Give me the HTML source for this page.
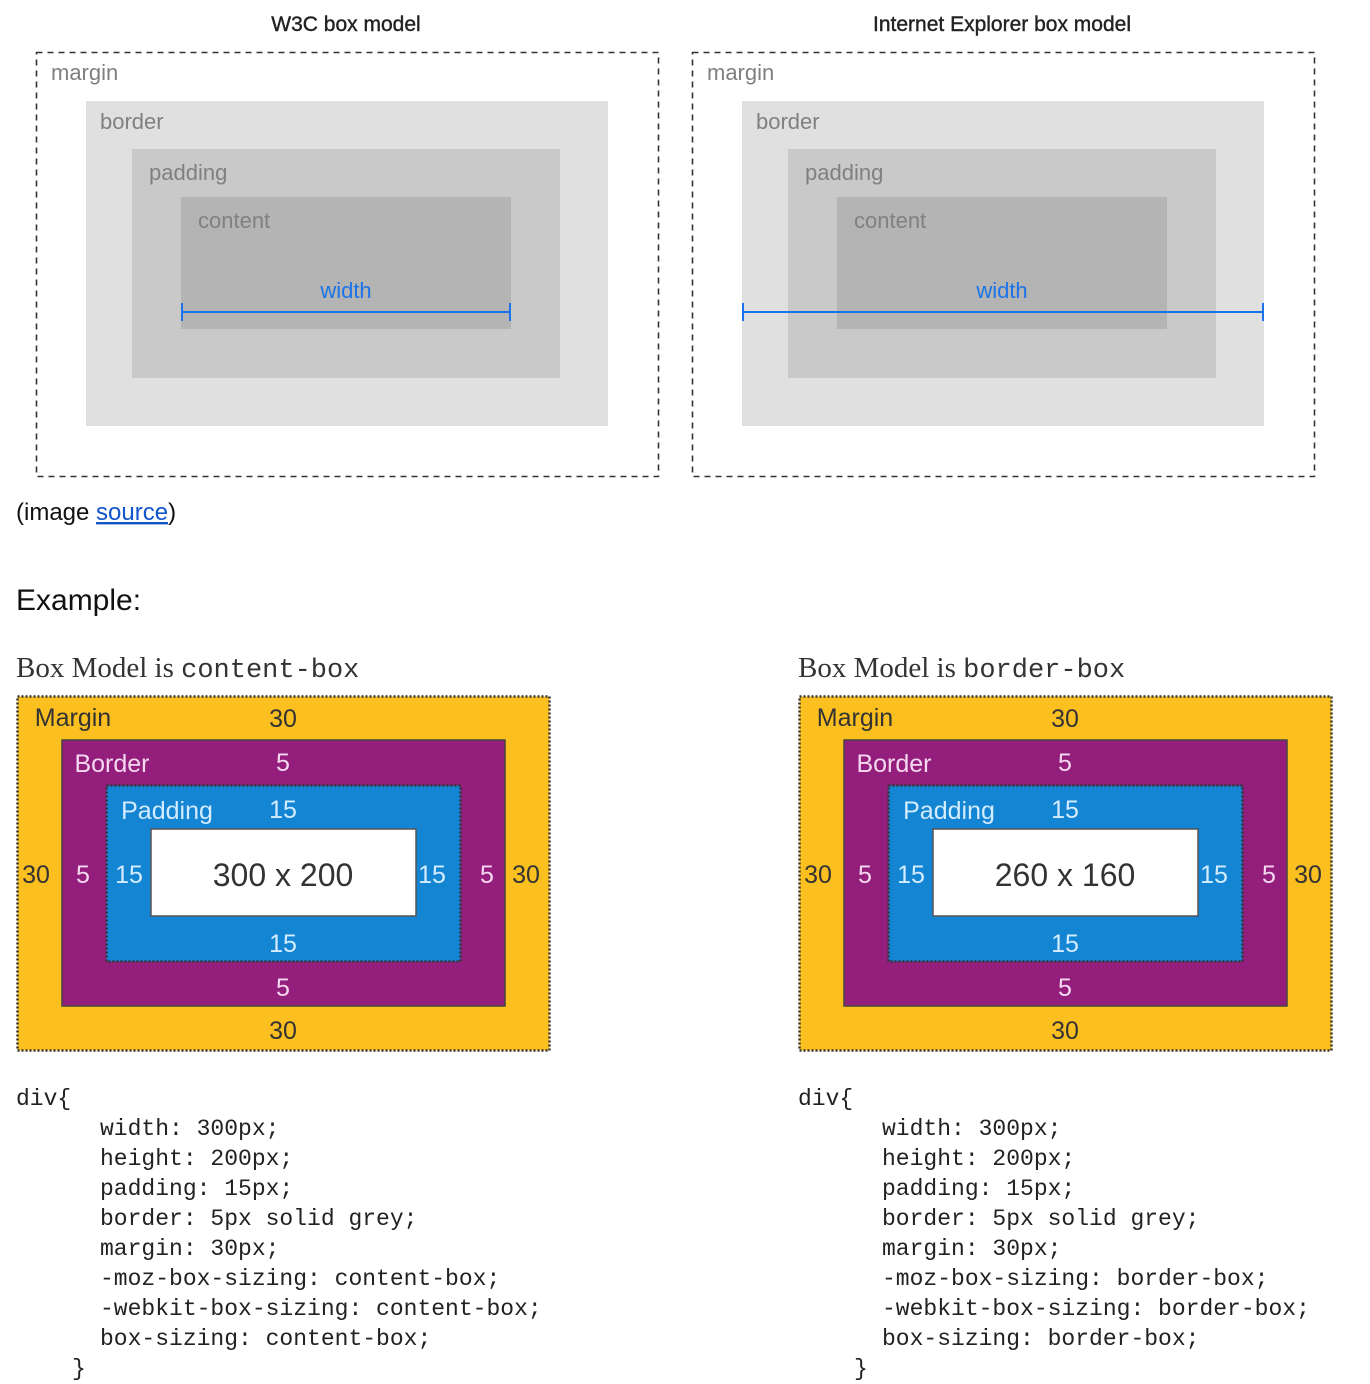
<!DOCTYPE html>
<html><head><meta charset="utf-8"><style>
html,body{margin:0;padding:0;background:#fff;width:1370px;height:1384px;overflow:hidden}
svg{display:block}
.lbl{font-family:"Liberation Sans",sans-serif;font-size:22px;fill:#808080}
.ttl{font-family:"Liberation Sans",sans-serif;font-size:21px;fill:#222;text-anchor:middle;stroke:#222;stroke-width:0.4}
.num{font-family:"Liberation Sans",sans-serif;font-size:25px;text-anchor:middle}
.code{font-family:"Liberation Mono",monospace;font-size:23px;fill:#222}
.serif{font-family:"Liberation Serif",serif;font-size:29px;fill:#333}
.mono{font-family:"Liberation Mono",monospace;font-size:27px;fill:#333}
</style></head><body>
<svg width="1370" height="1384" viewBox="0 0 1370 1384">
<g>
 <text class="ttl" x="346" y="31">W3C box model</text>
 <rect x="36.5" y="52.5" width="622" height="424" fill="none" stroke="#333" stroke-width="1.6" stroke-dasharray="6,5"/>
 <rect x="86" y="101" width="522" height="325" fill="#e0e0e0"/>
 <rect x="132" y="149" width="428" height="229" fill="#c9c9c9"/>
 <rect x="181" y="197" width="330" height="132" fill="#b4b4b4"/>
 <text class="lbl" x="51" y="80">margin</text>
 <text class="lbl" x="100" y="129">border</text>
 <text class="lbl" x="149" y="180">padding</text>
 <text class="lbl" x="198" y="228">content</text>
 <text class="lbl" x="346" y="298" style="fill:#1a73e8;text-anchor:middle">width</text>
 <g stroke="#1a73e8" stroke-width="2">
  <line x1="182" y1="312" x2="510" y2="312"/><line x1="182" y1="303" x2="182" y2="321"/><line x1="510" y1="303" x2="510" y2="321"/>
 </g>
</g>
<g>
 <text class="ttl" x="1002" y="31">Internet Explorer box model</text>
 <rect x="692.5" y="52.5" width="622" height="424" fill="none" stroke="#333" stroke-width="1.6" stroke-dasharray="6,5"/>
 <rect x="742" y="101" width="522" height="325" fill="#e0e0e0"/>
 <rect x="788" y="149" width="428" height="229" fill="#c9c9c9"/>
 <rect x="837" y="197" width="330" height="132" fill="#b4b4b4"/>
 <text class="lbl" x="707" y="80">margin</text>
 <text class="lbl" x="756" y="129">border</text>
 <text class="lbl" x="805" y="180">padding</text>
 <text class="lbl" x="854" y="228">content</text>
 <text class="lbl" x="1002" y="298" style="fill:#1a73e8;text-anchor:middle">width</text>
 <g stroke="#1a73e8" stroke-width="2">
  <line x1="743" y1="312" x2="1263" y2="312"/><line x1="743" y1="303" x2="743" y2="321"/><line x1="1263" y1="303" x2="1263" y2="321"/>
 </g>
</g>
<text x="16" y="520" style="font-family:'Liberation Sans',sans-serif;font-size:24px;fill:#111">(image <tspan fill="#1155cc" text-decoration="underline">source</tspan>)</text>
<text x="16" y="610" style="font-family:'Liberation Sans',sans-serif;font-size:30px;fill:#111">Example:</text>

<g>
 <text x="16" y="677"><tspan class="serif">Box Model is </tspan><tspan class="mono">content-box</tspan></text>
 <rect x="17.5" y="696.5" width="532" height="354" fill="#fbbf1f" stroke="#333" stroke-width="2.5" stroke-dasharray="2,2"/>
 <rect x="62" y="740" width="443" height="266" fill="#941e7b" stroke="#444" stroke-width="1.5"/>
 <rect x="106.5" y="785.5" width="354" height="176" fill="#1385d3" stroke="#333" stroke-width="2.5" stroke-dasharray="2,2"/>
 <rect x="151" y="829" width="265" height="87" fill="#fff" stroke="#555" stroke-width="1.5"/>
 <g class="num">
  <text x="73" y="726" style="fill:#333">Margin</text>
  <text x="283" y="727" style="fill:#333">30</text>
  <text x="112" y="772" style="fill:#f4d8f0">Border</text>
  <text x="283" y="771" style="fill:#f4d8f0">5</text>
  <text x="167" y="819" style="fill:#d4ecff">Padding</text>
  <text x="283" y="818" style="fill:#d4ecff">15</text>
  <text x="36" y="883" style="fill:#333">30</text>
  <text x="83" y="883" style="fill:#f4d8f0">5</text>
  <text x="129" y="883" style="fill:#d4ecff">15</text>
  <text x="283" y="886" style="fill:#333;font-size:32px">300 x 200</text>
  <text x="432" y="883" style="fill:#d4ecff">15</text>
  <text x="487" y="883" style="fill:#f4d8f0">5</text>
  <text x="526" y="883" style="fill:#333">30</text>
  <text x="283" y="952" style="fill:#d4ecff">15</text>
  <text x="283" y="996" style="fill:#f4d8f0">5</text>
  <text x="283" y="1039" style="fill:#333">30</text>
 </g>
 <g class="code">
  <text x="16" y="1105">div{</text>
  <text x="100" y="1135">width: 300px;</text>
  <text x="100" y="1165">height: 200px;</text>
  <text x="100" y="1195">padding: 15px;</text>
  <text x="100" y="1225">border: 5px solid grey;</text>
  <text x="100" y="1255">margin: 30px;</text>
  <text x="100" y="1285">-moz-box-sizing: content-box;</text>
  <text x="100" y="1315">-webkit-box-sizing: content-box;</text>
  <text x="100" y="1345">box-sizing: content-box;</text>
  <text x="72" y="1375">}</text>
 </g>
</g>

<g transform="translate(782,0)">
 <text x="16" y="677"><tspan class="serif">Box Model is </tspan><tspan class="mono">border-box</tspan></text>
 <rect x="17.5" y="696.5" width="532" height="354" fill="#fbbf1f" stroke="#333" stroke-width="2.5" stroke-dasharray="2,2"/>
 <rect x="62" y="740" width="443" height="266" fill="#941e7b" stroke="#444" stroke-width="1.5"/>
 <rect x="106.5" y="785.5" width="354" height="176" fill="#1385d3" stroke="#333" stroke-width="2.5" stroke-dasharray="2,2"/>
 <rect x="151" y="829" width="265" height="87" fill="#fff" stroke="#555" stroke-width="1.5"/>
 <g class="num">
  <text x="73" y="726" style="fill:#333">Margin</text>
  <text x="283" y="727" style="fill:#333">30</text>
  <text x="112" y="772" style="fill:#f4d8f0">Border</text>
  <text x="283" y="771" style="fill:#f4d8f0">5</text>
  <text x="167" y="819" style="fill:#d4ecff">Padding</text>
  <text x="283" y="818" style="fill:#d4ecff">15</text>
  <text x="36" y="883" style="fill:#333">30</text>
  <text x="83" y="883" style="fill:#f4d8f0">5</text>
  <text x="129" y="883" style="fill:#d4ecff">15</text>
  <text x="283" y="886" style="fill:#333;font-size:32px">260 x 160</text>
  <text x="432" y="883" style="fill:#d4ecff">15</text>
  <text x="487" y="883" style="fill:#f4d8f0">5</text>
  <text x="526" y="883" style="fill:#333">30</text>
  <text x="283" y="952" style="fill:#d4ecff">15</text>
  <text x="283" y="996" style="fill:#f4d8f0">5</text>
  <text x="283" y="1039" style="fill:#333">30</text>
 </g>
 <g class="code">
  <text x="16" y="1105">div{</text>
  <text x="100" y="1135">width: 300px;</text>
  <text x="100" y="1165">height: 200px;</text>
  <text x="100" y="1195">padding: 15px;</text>
  <text x="100" y="1225">border: 5px solid grey;</text>
  <text x="100" y="1255">margin: 30px;</text>
  <text x="100" y="1285">-moz-box-sizing: border-box;</text>
  <text x="100" y="1315">-webkit-box-sizing: border-box;</text>
  <text x="100" y="1345">box-sizing: border-box;</text>
  <text x="72" y="1375">}</text>
 </g>
</g>
</svg>
</body></html>
